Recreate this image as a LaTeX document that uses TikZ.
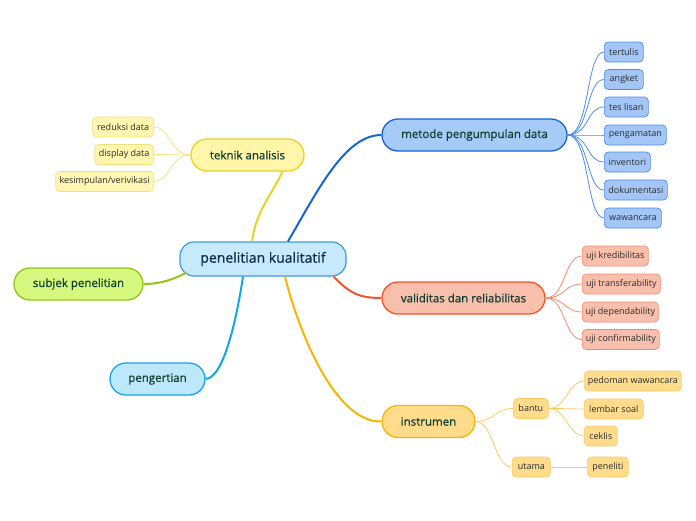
\documentclass[tikz,border=0pt]{standalone}
\usepackage{fontspec}
\setmainfont{Open Sans}
\newfontfamily\topicfont[FakeBold=0.6]{Open Sans}
\usepackage{tikz}
\usetikzlibrary{positioning}

\definecolor{rootfill}{HTML}{C6E9FC}
\definecolor{rootline}{HTML}{3D9BDA}
\definecolor{roottext}{HTML}{0F2B4A}
\definecolor{topictext}{HTML}{0D3D2E}
\definecolor{leaftext}{HTML}{2B2B2B}
\definecolor{tekfill}{HTML}{FFF6A9}
\definecolor{tekline}{HTML}{EBD126}
\definecolor{tekleaf}{HTML}{FFF6B2}
\definecolor{tekleafline}{HTML}{F4E07A}
\definecolor{metfill}{HTML}{A6CBF7}
\definecolor{metline}{HTML}{1565D3}
\definecolor{metleaf}{HTML}{A3C6F6}
\definecolor{metleafline}{HTML}{4C8DEB}
\definecolor{valfill}{HTML}{F8BFAC}
\definecolor{valline}{HTML}{F2552C}
\definecolor{valleafline}{HTML}{F68A68}
\definecolor{insfill}{HTML}{FFDC8C}
\definecolor{insline}{HTML}{F8B400}
\definecolor{insleafline}{HTML}{F9CA62}
\definecolor{subfill}{HTML}{D7F87F}
\definecolor{subline}{HTML}{93C41A}
\definecolor{penfill}{HTML}{BDE8FC}
\definecolor{penline}{HTML}{16A4E8}

\begin{document}
\begin{tikzpicture}[x=1pt,y=-1pt]

	\useasboundingbox (0,0) rectangle (696,520);

	\tikzset{
		rootnode/.style={draw=rootline, fill=rootfill, line width=1.2pt, rounded corners=14pt,
			minimum width=166pt, minimum height=34pt, inner sep=0pt, text=roottext,
			font=\topicfont\fontsize{14}{16}\selectfont},
		topic/.style={line width=1.3pt, rounded corners=16pt, minimum height=32pt,
			inner sep=0pt, text=topictext, font=\topicfont\fontsize{11.5}{14}\selectfont},
		leaf/.style={line width=0.7pt, rounded corners=4pt, minimum height=20pt,
			inner sep=0pt, text=leaftext, font=\fontsize{9}{11}\selectfont},
		branch/.style={line width=2pt},
		twig/.style={line width=0.8pt}
	}

	% --- central topic ---
	\node[rootnode] (root) at (263,259) {penelitian kualitatif};

	% --- main topics ---
	\node[topic, draw=tekline, fill=tekfill, minimum width=113pt] (teknik) at (247.5,155) {teknik analisis};
	\node[topic, draw=metline, fill=metfill, minimum width=185pt] (metode) at (474.5,135) {metode pengumpulan data};
	\node[topic, draw=valline, fill=valfill, minimum width=163pt] (validitas) at (463.5,298) {validitas dan reliabilitas};
	\node[topic, draw=insline, fill=insfill, minimum width=93pt] (instrumen) at (428.5,421.5) {instrumen};
	\node[topic, draw=subline, fill=subfill, minimum width=129pt] (subjek) at (78.5,284) {subjek penelitian};
	\node[topic, draw=penline, fill=penfill, minimum width=95pt] (pengertian) at (157.5,379) {pengertian};

	% --- branches from the central topic ---
	\draw[branch, tekline] ([xshift=-11pt]root.north) .. controls +(4,-30) and +(-12,25) .. ([xshift=35pt]teknik.south);
	\draw[branch, metline] ([xshift=25pt]root.north) .. controls (318,190) and (345,135) .. (metode.west);
	\draw[branch, valline] ([xshift=-13pt]root.south east) .. controls +(15,15) and +(-25,0) .. (validitas.west);
	\draw[branch, insline] ([xshift=22pt]root.south) .. controls (298,330) and (335,423) .. (instrumen.west);
	\draw[branch, penline] ([xshift=-20pt]root.south) .. controls (238,310) and (225,378) .. (pengertian.east);
	\draw[branch, subline] ([xshift=7pt,yshift=4pt]root.south west) .. controls +(-15,8) and +(15,0) .. (subjek.east);

	% --- teknik analisis ---
	\foreach \n/\y/\w/\t in {reduksi/127/61/{reduksi data}, display/154.5/59/{display data},
			kesimpulan/181.5/98/{kesimpulan/verivikasi}} {
		\node[leaf, draw=tekleafline, fill=tekleaf, anchor=east, minimum width=\w pt] (\n) at (154,\y) {\t};
		\draw[twig, tekleafline] (teknik.west) .. controls +(-20,0) and +(16,0) .. (\n.east);
	}

	% --- metode pengumpulan data ---
	\foreach \n/\y/\w/\t in {tertulis/52/39/tertulis, angket/79.5/39/angket, teslisan/107/44/tes lisan,
			pengamatan/135/62/pengamatan, inventori/162/46/inventori, dokumentasi/190/63/dokumentasi,
			wawancara/218/57/wawancara} {
		\node[leaf, draw=metleafline, fill=metleaf, anchor=west, minimum width=\w pt] (\n) at (604,\y) {\t};
		\draw[twig, metleafline] (metode.east) .. controls +(22,0) and +(-18,0) .. (\n.west);
	}

	% --- validitas dan reliabilitas ---
	\foreach \n/\y/\w/\t in {kredibilitas/256/66/uji kredibilitas, transfer/284/78/uji transferability,
			dependab/312/76/uji dependability, confirm/339.5/77/uji confirmability} {
		\node[leaf, draw=valleafline, fill=valfill, anchor=west, minimum width=\w pt] (\n) at (582,\y) {\t};
		\draw[twig, valleafline] (validitas.east) .. controls +(20,0) and +(-18,0) .. (\n.west);
	}

	% --- instrumen ---
	\node[leaf, draw=insleafline, fill=insfill, anchor=west, minimum width=35pt] (bantu) at (513,408.5) {bantu};
	\node[leaf, draw=insleafline, fill=insfill, anchor=west, minimum width=38pt] (utama) at (512,467) {utama};
	\draw[twig, insleafline] (instrumen.east) .. controls +(18,0) and +(-18,0) .. (bantu.west);
	\draw[twig, insleafline] (instrumen.east) .. controls +(18,0) and +(-18,0) .. (utama.west);

	\foreach \n/\y/\w/\t in {pedoman/381/97/pedoman wawancara, lembar/409/59/lembar soal, ceklis/436/33/ceklis} {
		\node[leaf, draw=insleafline, fill=insfill, anchor=west, minimum width=\w pt] (\n) at (584,\y) {\t};
		\draw[twig, insleafline] (bantu.east) .. controls +(18,0) and +(-16,0) .. (\n.west);
	}
	\node[leaf, draw=insleafline, fill=insfill, anchor=west, minimum width=41pt] (peneliti) at (587,467) {peneliti};
	\draw[twig, insleafline] (utama.east) -- (peneliti.west);

\end{tikzpicture}
\end{document}
